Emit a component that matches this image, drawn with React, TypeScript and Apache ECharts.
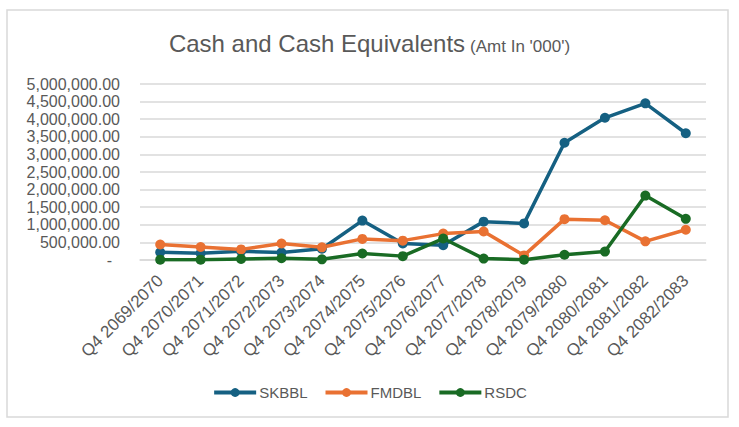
import React, { useEffect, useRef } from "react";
import * as echarts from "echarts";

const categories = [
  "Q4 2069/2070", "Q4 2070/2071", "Q4 2071/2072", "Q4 2072/2073", "Q4 2073/2074",
  "Q4 2074/2075", "Q4 2075/2076", "Q4 2076/2077", "Q4 2077/2078", "Q4 2078/2079",
  "Q4 2079/2080", "Q4 2080/2081", "Q4 2081/2082", "Q4 2082/2083",
];
const skbbl = [220000, 190000, 250000, 210000, 320000, 1120000, 470000, 420000, 1090000, 1040000, 3330000, 4040000, 4450000, 3600000];
const fmdbl = [440000, 370000, 300000, 470000, 360000, 600000, 550000, 750000, 810000, 130000, 1160000, 1130000, 530000, 860000];
const rsdc = [10000, 10000, 30000, 50000, 20000, 185000, 110000, 610000, 40000, 10000, 150000, 240000, 1830000, 1170000];
const seriesNames = ["SKBBL", "FMDBL", "RSDC"];
const colors = ["#156082", "#E97132", "#196B24"];

const FONT = "'Liberation Sans', Arial, sans-serif";
const TXT = "#595959";

export default function App() {
  const ref = useRef<HTMLDivElement>(null);
  useEffect(() => {
    if (!ref.current) return;
    const chart = echarts.init(ref.current, null, { renderer: "svg" });
    const values = [skbbl, fmdbl, rsdc];
    chart.setOption({
      animation: false,
      backgroundColor: "#ffffff",
      textStyle: { fontFamily: FONT },
      title: {
        text: "{a|Cash and Cash Equivalents} {b|(Amt In '000')}",
        left: "center",
        top: 26,
        textStyle: {
          fontWeight: "normal",
          rich: {
            a: { fontFamily: FONT, fontSize: 24, fontWeight: "normal", color: TXT },
            b: { fontFamily: FONT, fontSize: 17, fontWeight: "normal", color: TXT, verticalAlign: "bottom" },
          },
        },
      },
      graphic: [
        {
          type: "rect",
          shape: { x: 7, y: 10, width: 721, height: 407 },
          style: { fill: "none", stroke: "#D9D9D9", lineWidth: 1.5 },
          silent: true,
        },
      ],
      legend: {
        data: seriesNames,
        left: "center",
        top: 380,
        itemWidth: 42,
        itemHeight: 11,
        itemGap: 16,
        lineStyle: { width: 4 },
        textStyle: { fontFamily: FONT, fontSize: 15, color: TXT, padding: [0, 0, 0, -2] },
      },
      grid: {
        left: 140,
        right: 33,
        top: 84,
        bottom: 167,
        containLabel: false,
        outerBoundsMode: "none",
      },
      xAxis: {
        type: "category",
        data: categories,
        boundaryGap: true,
        axisLine: { show: true, lineStyle: { color: "#D9D9D9", width: 1.5 } },
        axisTick: { show: false },
        axisLabel: {
          rotate: 45,
          interval: 0,
          margin: 18,
          fontFamily: FONT,
          fontSize: 17,
          color: TXT,
        },
      },
      yAxis: {
        type: "value",
        min: 0,
        max: 5000000,
        interval: 500000,
        axisLine: { show: false },
        axisTick: { show: false },
        splitLine: { lineStyle: { color: "#D9D9D9", width: 1.5 } },
        axisLabel: {
          margin: 20,
          fontFamily: FONT,
          fontSize: 16,
          color: TXT,
          formatter: (v: number) =>
            v === 0
              ? "{d|-}"
              : v.toLocaleString("en-US", { minimumFractionDigits: 2, maximumFractionDigits: 2 }),
          rich: {
            d: { fontFamily: FONT, fontSize: 16, color: TXT, padding: [0, 8, 0, 0] },
          },
        },
      },
      series: seriesNames.map((name, i) => ({
        name,
        type: "line",
        data: values[i],
        symbol: "circle",
        symbolSize: 10,
        color: colors[i],
        lineStyle: { width: 3.5, color: colors[i] },
        itemStyle: { color: colors[i] },
      })),
    });
    return () => chart.dispose();
  }, []);
  return (
    <div
      ref={ref}
      style={{ position: "fixed", left: 0, top: 0, width: 739, height: 427 }}
    />
  );
}
